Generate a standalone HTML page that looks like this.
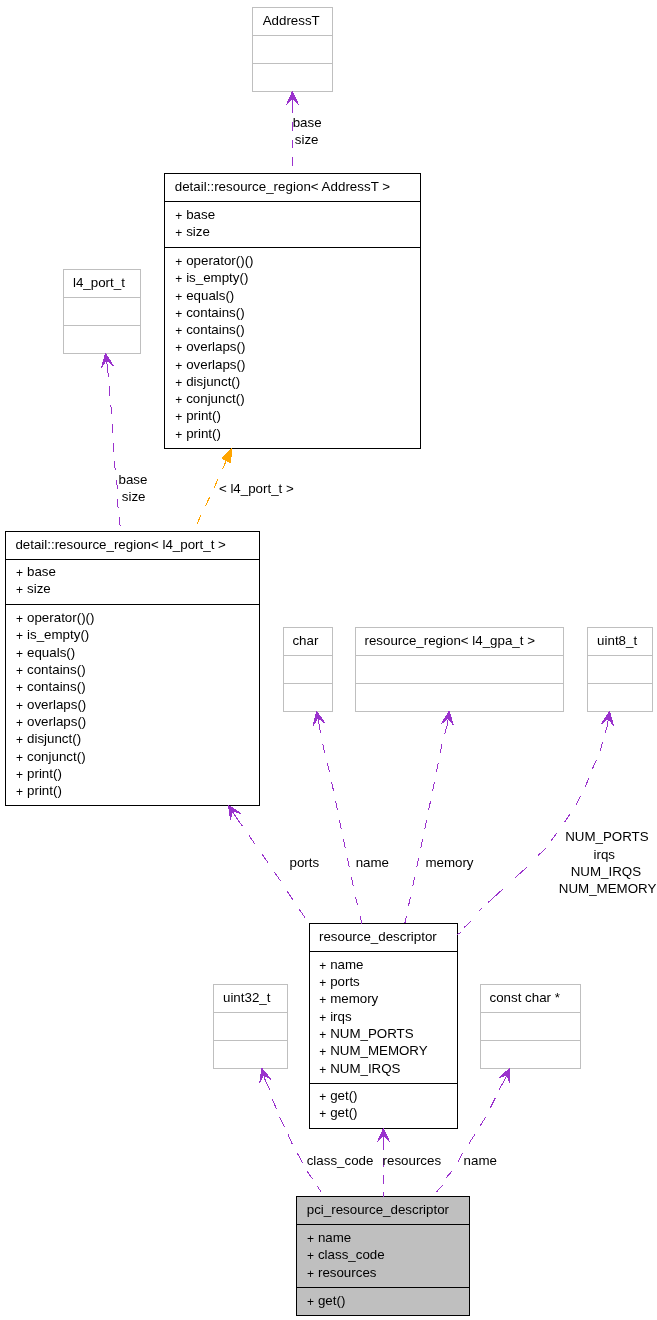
<!DOCTYPE html>
<html><head><meta charset="utf-8"><style>
html,body{margin:0;padding:0;background:#fff;}
body{width:657px;height:1320px;position:relative;overflow:hidden;}
svg{position:absolute;left:0;top:0;will-change:transform;}
text{white-space:pre;}
</style></head><body>
<svg width="657" height="1320" viewBox="0 0 657 1320">
<g font-family='"Liberation Sans", sans-serif' font-size="13.33" fill="#000">
<rect x="252.5" y="7.5" width="80" height="84" fill="#fff" stroke="#bfbfbf"/>
<path d="M252.5 35.5H332.5M252.5 63.5H332.5" stroke="#bfbfbf" fill="none"/>
<text x="262.70" y="25.00">AddressT</text>
<rect x="164.5" y="173.5" width="256" height="275" fill="#fff" stroke="#000"/>
<path d="M164.5 201.5H420.5M164.5 247.5H420.5" stroke="#000" fill="none"/>
<text x="174.70" y="191.00" textLength="215.4" lengthAdjust="spacing">detail::resource_region&lt; AddressT &gt;</text>
<text x="175.20" y="219.80" font-size="12">+</text>
<text x="186.15" y="218.80">base</text>
<text x="175.20" y="236.80" font-size="12">+</text>
<text x="186.15" y="235.80">size</text>
<text x="175.20" y="266.10" font-size="12">+</text>
<text x="186.15" y="265.10">operator()()</text>
<text x="175.20" y="283.36" font-size="12">+</text>
<text x="186.15" y="282.36">is_empty()</text>
<text x="175.20" y="300.62" font-size="12">+</text>
<text x="186.15" y="299.62">equals()</text>
<text x="175.20" y="317.88" font-size="12">+</text>
<text x="186.15" y="316.88">contains()</text>
<text x="175.20" y="335.14" font-size="12">+</text>
<text x="186.15" y="334.14">contains()</text>
<text x="175.20" y="352.40" font-size="12">+</text>
<text x="186.15" y="351.40">overlaps()</text>
<text x="175.20" y="369.66" font-size="12">+</text>
<text x="186.15" y="368.66">overlaps()</text>
<text x="175.20" y="386.92" font-size="12">+</text>
<text x="186.15" y="385.92">disjunct()</text>
<text x="175.20" y="404.18" font-size="12">+</text>
<text x="186.15" y="403.18">conjunct()</text>
<text x="175.20" y="421.44" font-size="12">+</text>
<text x="186.15" y="420.44">print()</text>
<text x="175.20" y="438.70" font-size="12">+</text>
<text x="186.15" y="437.70">print()</text>
<rect x="63.5" y="269.5" width="77" height="84" fill="#fff" stroke="#bfbfbf"/>
<path d="M63.5 297.5H140.5M63.5 325.5H140.5" stroke="#bfbfbf" fill="none"/>
<text x="73.00" y="287.40">l4_port_t</text>
<rect x="5.5" y="531.5" width="254" height="274" fill="#fff" stroke="#000"/>
<path d="M5.5 559.5H259.5M5.5 604.5H259.5" stroke="#000" fill="none"/>
<text x="15.40" y="549.00">detail::resource_region&lt; l4_port_t &gt;</text>
<text x="16.10" y="576.80" font-size="12">+</text>
<text x="27.05" y="575.80">base</text>
<text x="16.10" y="593.80" font-size="12">+</text>
<text x="27.05" y="592.80">size</text>
<text x="16.10" y="622.90" font-size="12">+</text>
<text x="27.05" y="621.90">operator()()</text>
<text x="16.10" y="640.25" font-size="12">+</text>
<text x="27.05" y="639.25">is_empty()</text>
<text x="16.10" y="657.60" font-size="12">+</text>
<text x="27.05" y="656.60">equals()</text>
<text x="16.10" y="674.95" font-size="12">+</text>
<text x="27.05" y="673.95">contains()</text>
<text x="16.10" y="692.30" font-size="12">+</text>
<text x="27.05" y="691.30">contains()</text>
<text x="16.10" y="709.65" font-size="12">+</text>
<text x="27.05" y="708.65">overlaps()</text>
<text x="16.10" y="727.00" font-size="12">+</text>
<text x="27.05" y="726.00">overlaps()</text>
<text x="16.10" y="744.35" font-size="12">+</text>
<text x="27.05" y="743.35">disjunct()</text>
<text x="16.10" y="761.70" font-size="12">+</text>
<text x="27.05" y="760.70">conjunct()</text>
<text x="16.10" y="779.05" font-size="12">+</text>
<text x="27.05" y="778.05">print()</text>
<text x="16.10" y="796.40" font-size="12">+</text>
<text x="27.05" y="795.40">print()</text>
<rect x="283.5" y="627.5" width="49" height="84" fill="#fff" stroke="#bfbfbf"/>
<path d="M283.5 655.5H332.5M283.5 683.5H332.5" stroke="#bfbfbf" fill="none"/>
<text x="292.40" y="644.70">char</text>
<rect x="355.5" y="627.5" width="208" height="84" fill="#fff" stroke="#bfbfbf"/>
<path d="M355.5 655.5H563.5M355.5 683.5H563.5" stroke="#bfbfbf" fill="none"/>
<text x="364.50" y="644.70">resource_region&lt; l4_gpa_t &gt;</text>
<rect x="587.5" y="627.5" width="65" height="84" fill="#fff" stroke="#bfbfbf"/>
<path d="M587.5 655.5H652.5M587.5 683.5H652.5" stroke="#bfbfbf" fill="none"/>
<text x="597.10" y="644.70">uint8_t</text>
<rect x="309.5" y="923.5" width="148" height="205" fill="#fff" stroke="#000"/>
<path d="M309.5 951.5H457.5M309.5 1083.5H457.5" stroke="#000" fill="none"/>
<text x="319.00" y="941.00">resource_descriptor</text>
<text x="319.20" y="969.50" font-size="12">+</text>
<text x="330.15" y="968.50">name</text>
<text x="319.20" y="986.87" font-size="12">+</text>
<text x="330.15" y="985.87">ports</text>
<text x="319.20" y="1004.24" font-size="12">+</text>
<text x="330.15" y="1003.24">memory</text>
<text x="319.20" y="1021.61" font-size="12">+</text>
<text x="330.15" y="1020.61">irqs</text>
<text x="319.20" y="1038.98" font-size="12">+</text>
<text x="330.15" y="1037.98">NUM_PORTS</text>
<text x="319.20" y="1056.35" font-size="12">+</text>
<text x="330.15" y="1055.35">NUM_MEMORY</text>
<text x="319.20" y="1073.72" font-size="12">+</text>
<text x="330.15" y="1072.72">NUM_IRQS</text>
<text x="319.20" y="1100.90" font-size="12">+</text>
<text x="330.15" y="1099.90">get()</text>
<text x="319.20" y="1117.80" font-size="12">+</text>
<text x="330.15" y="1116.80">get()</text>
<rect x="213.5" y="984.5" width="74" height="84" fill="#fff" stroke="#bfbfbf"/>
<path d="M213.5 1012.5H287.5M213.5 1040.5H287.5" stroke="#bfbfbf" fill="none"/>
<text x="223.00" y="1002.10">uint32_t</text>
<rect x="480.5" y="984.5" width="100" height="84" fill="#fff" stroke="#bfbfbf"/>
<path d="M480.5 1012.5H580.5M480.5 1040.5H580.5" stroke="#bfbfbf" fill="none"/>
<text x="489.50" y="1002.00">const char *</text>
<rect x="296.5" y="1196.5" width="173" height="119" fill="#bfbfbf" stroke="#000"/>
<path d="M296.5 1224.5H469.5M296.5 1287.5H469.5" stroke="#000" fill="none"/>
<text x="306.80" y="1213.50">pci_resource_descriptor</text>
<text x="307.00" y="1242.90" font-size="12">+</text>
<text x="317.95" y="1241.90">name</text>
<text x="307.00" y="1260.25" font-size="12">+</text>
<text x="317.95" y="1259.25">class_code</text>
<text x="307.00" y="1277.60" font-size="12">+</text>
<text x="317.95" y="1276.60">resources</text>
<text x="307.00" y="1306.00" font-size="12">+</text>
<text x="317.95" y="1305.00">get()</text>
<path d="M292.50 91.50 L298.50 104.83 L292.50 98.17 L292.50 104.83 L292.50 98.17 L286.50 104.83Z" fill="#9a32cd" stroke="#9a32cd" stroke-width="1" stroke-linejoin="bevel" shape-rendering="crispEdges"/>
<path d="M292.50 104.83 L292.50 106.01 L292.50 107.09 L292.50 108.21 L292.50 109.22 L292.50 110.32 L292.50 111.48 L292.50 112.59 L292.50 113.37M292.50 122.27 L292.50 123.39 L292.50 124.51 L292.50 125.52 L292.50 126.52 L292.50 127.55 L292.50 128.57 L292.50 129.61 L292.50 130.65 L292.50 130.91M292.50 139.70 L292.50 140.77 L292.50 141.84 L292.50 142.91 L292.50 143.98 L292.50 145.04 L292.50 146.10 L292.50 147.15 L292.50 148.20M292.50 157.15 L292.50 158.23 L292.50 159.29 L292.50 160.32 L292.50 161.34 L292.50 162.49 L292.50 163.61 L292.50 164.70 L292.50 165.74" stroke="#9a32cd" fill="none" stroke-width="1" shape-rendering="crispEdges"/>
<text x="292.70" y="126.70">base</text>
<text x="294.80" y="143.80">size</text>
<path d="M105.50 353.50 L113.39 365.80 L106.48 360.09 L107.46 366.69 L106.48 360.09 L101.52 367.57Z" fill="#9a32cd" stroke="#9a32cd" stroke-width="1" stroke-linejoin="bevel" shape-rendering="crispEdges"/>
<path d="M107.46 366.69 L107.55 367.74 L107.66 368.93 L107.75 370.01 L107.84 371.09 L107.95 372.25 L108.05 373.47 L108.15 374.56 L108.25 375.62 L108.34 376.72M109.21 386.43 L109.30 387.54 L109.40 388.66 L109.50 389.79 L109.60 390.92 L109.70 392.06 L109.80 393.21 L109.91 394.36 L110.01 395.52M110.85 405.26 L110.95 406.38 L111.04 407.49 L111.14 408.58 L111.23 409.67 L111.32 410.73 L111.41 411.78 L111.49 412.82 L111.58 413.84 L111.60 414.09M112.38 424.04 L112.47 425.28 L112.55 426.53 L112.63 427.71 L112.69 428.83 L112.75 429.89 L112.81 431.13 L112.87 432.52 L112.88 432.84M113.05 442.83 L113.09 444.58 L113.17 446.49 L113.23 447.52 L113.29 448.54 L113.36 449.55 L113.49 451.53M114.34 461.34 L114.52 463.19 L114.71 465.05 L114.90 466.95 L115.11 468.85 L115.28 470.28M116.54 480.28 L116.75 482.17 L116.92 484.06 L117.07 485.94 L117.17 487.81 L117.23 489.20M117.46 498.92 L117.53 500.78 L117.64 502.66 L117.77 504.56 L117.90 506.04 L118.00 507.06 L118.08 507.83M119.16 517.32 L119.39 519.18 L119.59 520.90 L119.76 522.44 L119.90 523.81 L120.03 525.06 L120.14 526.19 L120.16 526.46" stroke="#9a32cd" fill="none" stroke-width="1" shape-rendering="crispEdges"/>
<text x="118.50" y="483.60">base</text>
<text x="121.80" y="500.60">size</text>
<path d="M231.70 448.40 L230.59 462.48 L222.04 458.71Z" fill="#ffa500" stroke="#ffa500" stroke-width="1" stroke-linejoin="bevel" shape-rendering="crispEdges"/>
<path d="M226.32 460.59 L225.56 462.28 L225.08 463.33 L224.56 464.51 L223.98 465.79 L223.36 467.16 L222.71 468.62 L222.37 469.37M218.16 478.71 L217.68 479.78 L217.21 480.82 L216.75 481.85 L216.13 483.22 L215.48 484.64 L214.87 485.99 L214.30 487.23 L214.16 487.53M209.70 497.06 L208.98 498.56 L208.26 500.05 L207.54 501.56 L206.79 503.13 L206.00 504.80 L205.37 506.12M201.05 515.13 L200.17 516.98 L199.34 518.75 L198.58 520.40 L197.90 521.91 L197.32 523.26 L196.94 524.20" stroke="#ffa500" fill="none" stroke-width="1" shape-rendering="crispEdges"/>
<text x="218.90" y="492.50">&lt; l4_port_t &gt;</text>
<path d="M228.40 805.40 L240.68 813.34 L232.02 811.00 L235.64 816.59 L232.02 811.00 L230.60 819.85Z" fill="#9a32cd" stroke="#9a32cd" stroke-width="1" stroke-linejoin="bevel" shape-rendering="crispEdges"/>
<path d="M235.64 816.59 L236.40 817.67 L237.31 818.97 L238.37 820.47 L239.57 822.16 L240.90 824.05 L241.80 825.32 L242.17 825.85M248.82 835.31 L249.79 836.70 L250.82 838.16 L251.53 839.18 L252.26 840.22 L253.01 841.29 L253.78 842.39 L254.57 843.51 L254.97 844.08M261.58 853.49 L262.47 854.76 L263.36 856.04 L264.26 857.32 L265.16 858.61 L266.06 859.91 L266.96 861.20 L267.86 862.49M274.40 872.00 L275.25 873.24 L276.11 874.52 L276.98 875.81 L277.86 877.13 L278.65 878.29 L279.32 879.31 L280.00 880.33 L280.34 880.84M286.71 890.44 L287.39 891.47 L288.06 892.49 L288.73 893.51 L289.40 894.52 L290.11 895.60 L290.98 896.91 L291.83 898.20 L292.67 899.47M298.82 908.70 L299.72 910.02 L300.56 911.24 L301.35 912.39 L302.09 913.45 L303.30 915.15 L304.51 916.85 L305.07 917.60" stroke="#9a32cd" fill="none" stroke-width="1" shape-rendering="crispEdges"/>
<text x="289.50" y="867.00">ports</text>
<path d="M316.60 711.30 L325.03 723.24 L317.87 717.84 L319.15 724.38 L317.87 717.84 L313.26 725.53Z" fill="#9a32cd" stroke="#9a32cd" stroke-width="1" stroke-linejoin="bevel" shape-rendering="crispEdges"/>
<path d="M319.15 724.38 L319.33 725.45 L319.53 726.71 L319.76 728.16 L320.02 729.81 L320.32 731.65 L320.53 732.90 L320.62 733.42M322.60 743.60 L322.92 745.04 L323.25 746.51 L323.48 747.52 L323.72 748.55 L323.97 749.59 L324.22 750.66 L324.49 751.75 L324.69 752.57M327.17 762.75 L327.49 764.05 L327.81 765.37 L328.07 766.46 L328.31 767.47 L328.56 768.51 L328.80 769.55 L329.05 770.61 L329.30 771.67M331.59 781.90 L331.86 783.12 L332.12 784.36 L332.35 785.43 L332.57 786.45 L332.78 787.49 L333.00 788.54 L333.23 789.60 L333.45 790.67 L333.51 790.94M335.53 800.80 L335.77 801.97 L336.00 803.14 L336.24 804.32 L336.48 805.51 L336.72 806.70 L336.97 807.89 L337.19 808.99 L337.39 810.00M339.43 820.11 L339.64 821.12 L339.84 822.14 L340.05 823.15 L340.25 824.16 L340.46 825.17 L340.66 826.17 L340.87 827.18 L341.07 828.18 L341.26 829.08M343.32 839.08 L343.56 840.24 L343.81 841.41 L344.06 842.59 L344.30 843.79 L344.54 844.89 L344.75 845.89 L344.96 846.91 L345.17 847.92 L345.22 848.18M347.34 858.26 L347.56 859.30 L347.78 860.34 L348.00 861.38 L348.22 862.42 L348.44 863.46 L348.66 864.50 L348.88 865.53 L349.09 866.56 L349.26 867.33M351.36 877.22 L351.60 878.38 L351.85 879.53 L352.09 880.67 L352.33 881.80 L352.57 882.91 L352.81 884.01 L353.04 885.09 L353.27 886.15 L353.32 886.42M355.52 896.53 L355.74 897.57 L355.97 898.59 L356.23 899.76 L356.52 901.06 L356.81 902.32 L357.08 903.56 L357.36 904.75 L357.49 905.34M359.91 915.61 L360.19 916.81 L360.47 917.94 L360.72 919.00 L361.13 920.70 L361.54 922.40 L361.80 923.50" stroke="#9a32cd" fill="none" stroke-width="1" shape-rendering="crispEdges"/>
<text x="355.70" y="866.50">name</text>
<path d="M449.20 711.30 L453.37 725.31 L448.31 717.91 L447.43 724.51 L448.31 717.91 L441.48 723.71Z" fill="#9a32cd" stroke="#9a32cd" stroke-width="1" stroke-linejoin="bevel" shape-rendering="crispEdges"/>
<path d="M447.43 724.51 L447.13 725.56 L446.75 726.80 L446.32 728.23 L445.83 729.85 L445.29 731.66 L444.86 733.14 L444.71 733.66M442.12 743.86 L441.80 745.30 L441.50 746.66 L441.28 747.68 L441.06 748.71 L440.84 749.76 L440.62 750.83 L440.40 751.93 L440.23 752.76M438.18 763.02 L437.93 764.33 L437.71 765.41 L437.52 766.42 L437.31 767.44 L437.11 768.48 L436.90 769.52 L436.69 770.58 L436.48 771.65 L436.43 771.92M434.42 781.90 L434.17 783.12 L433.91 784.36 L433.70 785.43 L433.49 786.46 L433.28 787.49 L433.06 788.54 L432.84 789.61 L432.63 790.68 L432.57 790.95M430.50 801.10 L430.26 802.27 L430.02 803.44 L429.78 804.62 L429.54 805.81 L429.29 807.00 L429.05 808.20 L428.83 809.25 L428.68 810.00M426.61 820.11 L426.40 821.13 L426.19 822.14 L425.98 823.15 L425.77 824.16 L425.56 825.17 L425.36 826.18 L425.15 827.18 L424.94 828.18 L424.76 829.08M422.62 839.37 L422.38 840.53 L422.13 841.71 L421.88 842.89 L421.63 844.09 L421.41 845.14 L421.20 846.15 L420.98 847.16 L420.77 848.18M418.64 858.26 L418.42 859.30 L418.19 860.34 L417.97 861.38 L417.75 862.42 L417.53 863.46 L417.31 864.50 L417.09 865.53 L416.87 866.56 L416.71 867.33M414.54 877.51 L414.29 878.67 L414.04 879.82 L413.80 880.96 L413.56 882.08 L413.33 883.18 L413.09 884.28 L412.86 885.36 L412.64 886.42M410.49 896.53 L410.27 897.57 L410.05 898.59 L409.80 899.76 L409.53 901.06 L409.26 902.32 L409.00 903.56 L408.75 904.75 L408.56 905.63M406.46 915.61 L406.21 916.81 L405.97 917.94 L405.75 919.00 L405.39 920.70 L405.03 922.40 L404.80 923.50" stroke="#9a32cd" fill="none" stroke-width="1" shape-rendering="crispEdges"/>
<text x="425.40" y="866.80">memory</text>
<path d="M609.50 711.50 L613.46 725.57 L608.51 718.09 L607.53 724.68 L608.51 718.09 L601.59 723.80Z" fill="#9a32cd" stroke="#9a32cd" stroke-width="1" stroke-linejoin="bevel" shape-rendering="crispEdges"/>
<path d="M607.53 724.68L605.40 732.60M602.70 742.00L600.30 750.50M596.60 759.90L592.40 768.80M588.70 778.30L585.30 786.70M580.50 796.20L576.30 804.50M569.80 814.20L564.40 822.40M556.80 833.00L551.20 840.80M546.00 848.40L538.00 855.50M526.80 867.40L515.10 877.70M503.00 889.00L488.20 902.40M481.60 908.50L479.40 910.80M471.00 921.40L464.10 927.50M461.10 932.10L457.30 934.70" stroke="#9a32cd" fill="none" stroke-width="1" shape-rendering="crispEdges"/>
<text x="565.20" y="840.70">NUM_PORTS</text>
<text x="593.50" y="859.00">irqs</text>
<text x="570.70" y="875.90">NUM_IRQS</text>
<text x="558.80" y="892.50">NUM_MEMORY</text>
<path d="M261.80 1068.40 L271.28 1079.53 L263.66 1074.80 L265.52 1081.20 L263.66 1074.80 L259.76 1082.87Z" fill="#9a32cd" stroke="#9a32cd" stroke-width="1" stroke-linejoin="bevel" shape-rendering="crispEdges"/>
<path d="M265.52 1081.20L269.70 1089.70M272.00 1098.80L276.50 1108.70M279.60 1117.00L284.40 1127.00M288.00 1134.60L292.50 1144.50M297.10 1152.80L302.40 1162.70M307.00 1171.10L312.30 1178.70M316.90 1185.60L321.40 1192.40" stroke="#9a32cd" fill="none" stroke-width="1" shape-rendering="crispEdges"/>
<text x="306.70" y="1164.90">class_code</text>
<path d="M383.50 1128.50 L389.50 1141.83 L383.50 1135.16 L383.50 1141.83 L383.50 1135.16 L377.50 1141.83Z" fill="#9a32cd" stroke="#9a32cd" stroke-width="1" stroke-linejoin="bevel" shape-rendering="crispEdges"/>
<path d="M383.50 1141.83 L383.50 1143.12 L383.50 1144.32 L383.50 1145.33 L383.50 1146.42 L383.50 1147.59 L383.50 1148.83 L383.50 1149.88M383.50 1158.30 L383.50 1159.37 L383.50 1160.46 L383.50 1161.56 L383.50 1162.67 L383.50 1163.78 L383.50 1164.91 L383.50 1166.04 L383.50 1166.89M383.50 1175.39 L383.50 1176.50 L383.50 1177.60 L383.50 1178.69 L383.50 1179.76 L383.50 1180.83 L383.50 1181.87 L383.50 1182.90 L383.50 1183.92M383.50 1192.45 L383.50 1193.51 L383.50 1194.63 L383.50 1195.77 L383.50 1196.50" stroke="#9a32cd" fill="none" stroke-width="1" shape-rendering="crispEdges"/>
<text x="382.60" y="1165.00">resources</text>
<path d="M509.80 1068.40 L509.74 1083.02 L507.04 1074.47 L504.28 1080.53 L507.04 1074.47 L498.82 1078.05Z" fill="#9a32cd" stroke="#9a32cd" stroke-width="1" stroke-linejoin="bevel" shape-rendering="crispEdges"/>
<path d="M504.28 1080.53L499.10 1089.70M495.30 1098.00L490.30 1108.00M485.80 1117.00L480.10 1125.80M474.80 1134.60L469.00 1143.40M462.60 1152.80L458.00 1161.70M452.00 1171.10L445.90 1178.00M442.80 1185.10L436.70 1191.70" stroke="#9a32cd" fill="none" stroke-width="1" shape-rendering="crispEdges"/>
<text x="463.60" y="1164.70">name</text>
</g></svg>
</body></html>
